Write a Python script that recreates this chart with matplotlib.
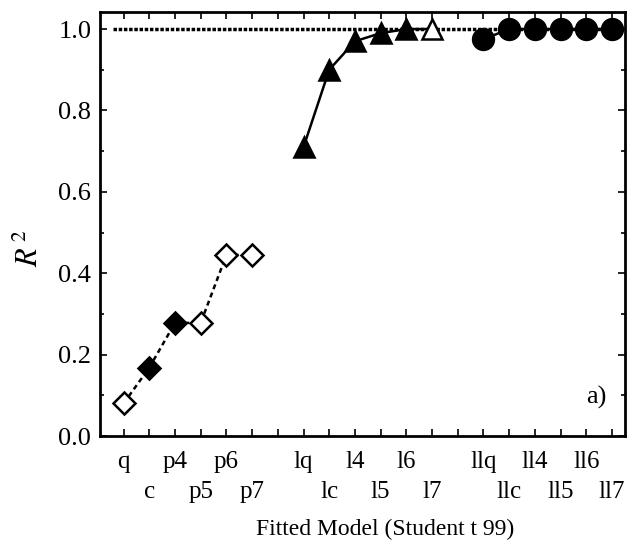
import matplotlib
matplotlib.use("Agg")
import matplotlib.pyplot as plt

plt.rcParams['font.family'] = ['Liberation Serif', 'DejaVu Serif']
plt.rcParams['mathtext.fontset'] = 'stix'

labels = ["q", "c", "p4", "p5", "p6", "p7",
          "lq", "lc", "l4", "l5", "l6", "l7",
          "llq", "llc", "ll4", "ll5", "ll6", "ll7"]
pos_p = [1, 2, 3, 4, 5, 6]
pos_l = [8, 9, 10, 11, 12, 13]
pos_ll = [15, 16, 17, 18, 19, 20]

r2_p = [0.08, 0.168, 0.278, 0.278, 0.445, 0.445]
r2_l = [0.71, 0.90, 0.97, 0.99, 1.0, 1.0]
r2_ll = [0.975, 1.0, 1.0, 1.0, 1.0, 1.0]

filled_p = [False, True, True, False, False, False]
filled_l = [True, True, True, True, True, False]
filled_ll = [True, True, True, True, True, True]

fig = plt.figure(figsize=(6.35, 5.44), dpi=100)
ax = fig.add_axes([0.157, 0.1985, 0.827, 0.7795])

# reference line at R^2 = 1
ax.plot([0.6, 20.2], [1.0, 1.0], color='black', linestyle=(0, (1, 0.5)), lw=2.5, zorder=1)

ax.plot(pos_p, r2_p, color='black', linestyle=(0, (2, 1.5)), lw=1.8, zorder=2)
ax.plot(pos_l, r2_l, color='black', linestyle='-', lw=1.8, zorder=2)
ax.plot(pos_ll, r2_ll, color='black', linestyle='-', lw=1.8, zorder=2)

for xs, ys, fl, mk, ms in [(pos_p, r2_p, filled_p, 'D', 11),
                           (pos_l, r2_l, filled_l, '^', 14),
                           (pos_ll, r2_ll, filled_ll, 'o', 15)]:
    for x, y, f in zip(xs, ys, fl):
        ax.plot(x, y, marker=mk, markersize=ms, markeredgewidth=1.8,
                markeredgecolor='black', markerfacecolor='black' if f else 'white',
                linestyle='none', zorder=3)

ax.set_xlim(0.07, 20.5)
ax.set_ylim(0, 1.042)

positions = pos_p + pos_l + pos_ll
ax.set_xticks(range(1, 21))
ax.set_xticklabels([])
for i, (p, lab) in enumerate(zip(positions, labels)):
    ax.text(p, -0.0755 if i % 2 == 0 else -0.146, lab, ha='center', va='baseline',
            fontsize=18, transform=ax.get_xaxis_transform())

ax.set_yticks([0.0, 0.2, 0.4, 0.6, 0.8, 1.0])
ax.set_yticks([0.1, 0.3, 0.5, 0.7, 0.9], minor=True)
ax.set_yticklabels(["0.0", "0.2", "0.4", "0.6", "0.8", "1.0"], fontsize=19)
ax.tick_params(axis='both', which='both', direction='in', top=True, right=True, width=1.2)
ax.tick_params(axis='both', which='major', length=5)
ax.tick_params(axis='both', which='minor', length=3)
ax.tick_params(axis='y', pad=6)
for s in ax.spines.values():
    s.set_linewidth(2)

fig.text(30 / 635, 1 - 248 / 544, r'$R^{\,2}$', rotation=90, ha='center', va='center', fontsize=22)
fig.text(0.607, 1 - 535 / 544, "Fitted Model (Student t 99)", ha='center', va='baseline', fontsize=17)
ax.text(0.966, 0.09, "a)", transform=ax.transAxes, ha='right', va='center', fontsize=19)

fig.savefig("out.png", dpi=100)
